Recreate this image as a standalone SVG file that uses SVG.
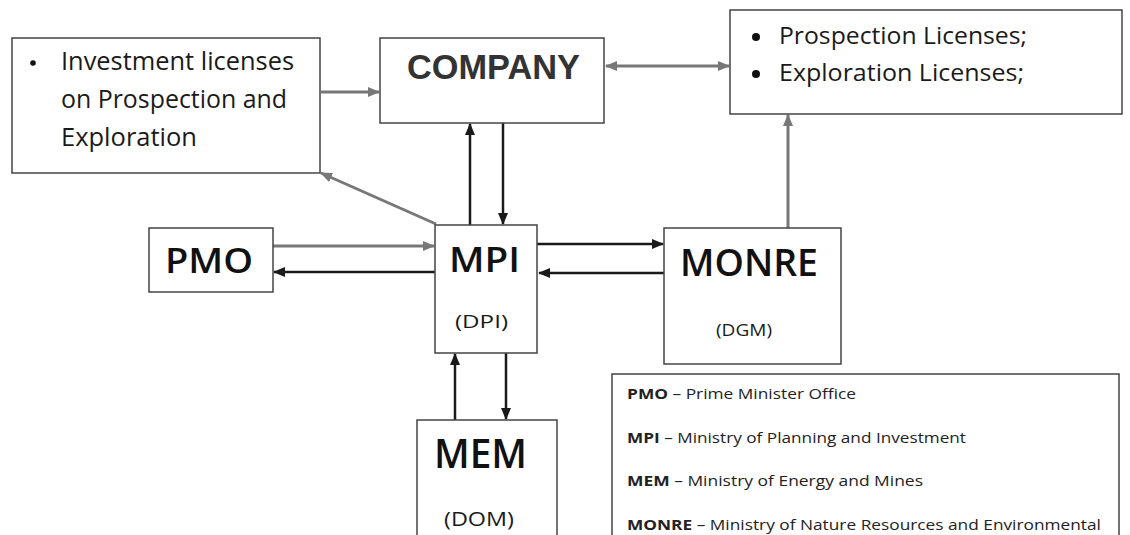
<svg xmlns="http://www.w3.org/2000/svg" width="1130" height="535" viewBox="0 0 1130 535">
  <style>
    .box { fill: #ffffff; stroke: #444444; stroke-width: 1.5; }
    .txt { font-family: "Open Sans", "Noto Sans", sans-serif; fill: #1a1a1a; }
    .big { font-family: "Open Sans", "Noto Sans", sans-serif; fill: #111111; font-weight: 600; }
    .co { font-family: "Liberation Sans", Arial, sans-serif; font-weight: bold; fill: #333333; }
    .lg { font-family: "Open Sans", "Noto Sans", sans-serif; font-size: 14px; fill: #222222; }
    .lgb { font-weight: bold; }
    .cg { stroke: #777777; stroke-width: 3; fill: none; }
    .cb { stroke: #1a1a1a; stroke-width: 2.5; fill: none; }
  </style>
  <defs>
    <marker id="ag" markerUnits="userSpaceOnUse" markerWidth="12" markerHeight="10" refX="11" refY="5" orient="auto-start-reverse">
      <path d="M0,0 L12,5 L0,10 z" fill="#777777"/>
    </marker>
    <marker id="ab" markerUnits="userSpaceOnUse" markerWidth="12" markerHeight="10" refX="11" refY="5" orient="auto-start-reverse">
      <path d="M0,0 L12,5 L0,10 z" fill="#1a1a1a"/>
    </marker>
  </defs>
  <rect width="1130" height="535" fill="#ffffff"/>

  <g id="connectors">
    <line class="cg" x1="321" y1="92" x2="379" y2="92" marker-end="url(#ag)"/>
    <line class="cg" x1="606" y1="66" x2="729" y2="66" marker-start="url(#ag)" marker-end="url(#ag)"/>
    <line class="cg" x1="436" y1="224" x2="321" y2="173" marker-end="url(#ag)"/>
    <line class="cb" x1="470" y1="225" x2="470" y2="124" marker-end="url(#ab)"/>
    <line class="cb" x1="503" y1="123" x2="503" y2="224" marker-end="url(#ab)"/>
    <line class="cg" x1="273" y1="246" x2="434" y2="246" marker-end="url(#ag)"/>
    <line class="cb" x1="435" y1="272" x2="274" y2="272" marker-end="url(#ab)"/>
    <line class="cb" x1="537" y1="244" x2="663" y2="244" marker-end="url(#ab)"/>
    <line class="cb" x1="664" y1="273" x2="539" y2="273" marker-end="url(#ab)"/>
    <line class="cg" x1="788" y1="228" x2="788" y2="115" marker-end="url(#ag)"/>
    <line class="cb" x1="455" y1="420" x2="455" y2="354" marker-end="url(#ab)"/>
    <line class="cb" x1="506" y1="353" x2="506" y2="419" marker-end="url(#ab)"/>
  </g>

  <g id="investment-licenses">
    <rect class="box" x="12" y="38" width="308" height="135"/>
    <circle cx="33" cy="63" r="2.8" fill="#111111"/>
    <text class="txt" x="61" y="70" font-size="26" textLength="233" lengthAdjust="spacingAndGlyphs">Investment licenses</text>
    <text class="txt" x="61" y="108" font-size="26" textLength="226" lengthAdjust="spacingAndGlyphs">on Prospection and</text>
    <text class="txt" x="61" y="146" font-size="26" textLength="136" lengthAdjust="spacingAndGlyphs">Exploration</text>
  </g>

  <g id="company">
    <rect class="box" x="380" y="38" width="224" height="85"/>
    <text class="co" x="407" y="79" font-size="35" textLength="173" lengthAdjust="spacingAndGlyphs">COMPANY</text>
  </g>

  <g id="licenses">
    <rect class="box" x="730" y="10" width="392" height="104"/>
    <circle cx="756" cy="37" r="4" fill="#111111"/>
    <circle cx="756" cy="74" r="4" fill="#111111"/>
    <text class="txt" x="779" y="44" font-size="23" textLength="248" lengthAdjust="spacingAndGlyphs">Prospection Licenses;</text>
    <text class="txt" x="779" y="81" font-size="23" textLength="245" lengthAdjust="spacingAndGlyphs">Exploration Licenses;</text>
  </g>

  <g id="pmo">
    <rect class="box" x="149" y="228" width="124" height="64"/>
    <text class="big" x="165" y="273" font-size="35" textLength="88" lengthAdjust="spacingAndGlyphs">PMO</text>
  </g>

  <g id="mpi">
    <rect class="box" x="435" y="225" width="102" height="128"/>
    <text class="big" x="449" y="272" font-size="35" textLength="71" lengthAdjust="spacingAndGlyphs">MPI</text>
    <text class="txt" x="455" y="328" font-size="19" textLength="53" lengthAdjust="spacingAndGlyphs">(DPI)</text>
  </g>

  <g id="monre">
    <rect class="box" x="664" y="228" width="177" height="136"/>
    <text class="big" x="680" y="276" font-size="37" textLength="138" lengthAdjust="spacingAndGlyphs">MONRE</text>
    <text class="txt" x="716" y="336" font-size="17" textLength="56" lengthAdjust="spacingAndGlyphs">(DGM)</text>
  </g>

  <g id="mem">
    <rect class="box" x="417" y="420" width="140" height="125"/>
    <text class="big" x="434" y="468" font-size="39" textLength="93" lengthAdjust="spacingAndGlyphs">MEM</text>
    <text class="txt" x="444" y="526" font-size="20" textLength="70" lengthAdjust="spacingAndGlyphs">(DOM)</text>
  </g>

  <g id="legend">
    <rect class="box" x="612" y="374" width="507" height="175"/>
    <text class="lg" x="627" y="399" textLength="229" lengthAdjust="spacingAndGlyphs"><tspan class="lgb">PMO</tspan> – Prime Minister Office</text>
    <text class="lg" x="627" y="443" textLength="339" lengthAdjust="spacingAndGlyphs"><tspan class="lgb">MPI</tspan> – Ministry of Planning and Investment</text>
    <text class="lg" x="627" y="486" textLength="296" lengthAdjust="spacingAndGlyphs"><tspan class="lgb">MEM</tspan> – Ministry of Energy and Mines</text>
    <text class="lg" x="627" y="530" textLength="474" lengthAdjust="spacingAndGlyphs"><tspan class="lgb">MONRE</tspan> – Ministry of Nature Resources and Environmental</text>
  </g>
</svg>
